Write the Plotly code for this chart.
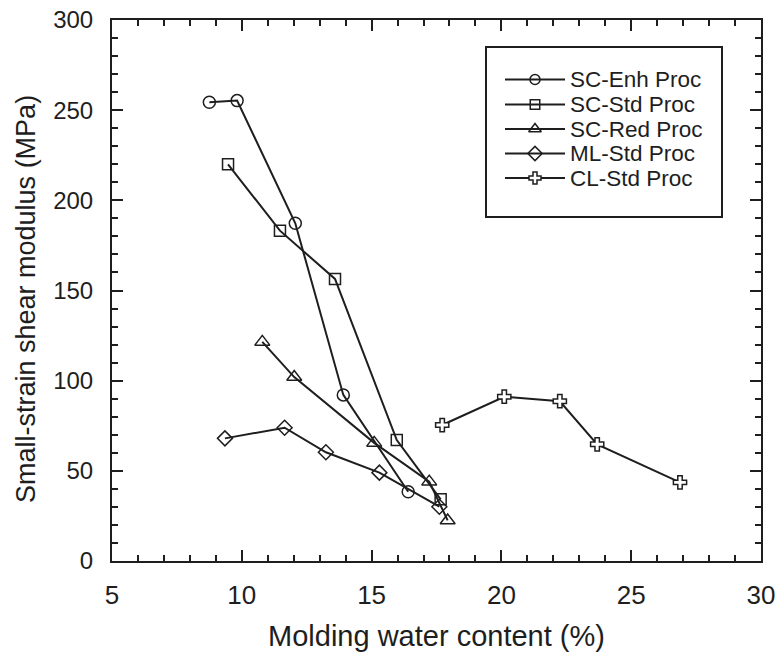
import plotly.graph_objects as go

# Data
sc_enh_x = [8.75, 9.82, 12.06, 13.91, 16.41]
sc_enh_y = [254.4, 255.3, 187.3, 92.1, 38.4]

sc_std_x = [9.47, 11.47, 13.59, 15.97, 17.66]
sc_std_y = [220.0, 183.2, 156.4, 67.1, 34.2]

sc_red_x = [10.79, 12.02, 15.10, 17.22, 17.93]
sc_red_y = [121.5, 102.0, 65.5, 44.0, 22.5]

ml_std_x = [9.35, 11.65, 13.24, 15.30, 17.61]
ml_std_y = [68.0, 73.9, 60.3, 49.0, 30.1]

cl_std_x = [17.72, 20.11, 22.25, 23.69, 26.88]
cl_std_y = [75.4, 91.1, 88.6, 64.7, 43.6]

names = ["SC-Enh Proc", "SC-Std Proc", "SC-Red Proc", "ML-Std Proc", "CL-Std Proc"]

x_ticks = [5, 10, 15, 20, 25, 30]
y_ticks = [0, 50, 100, 150, 200, 250, 300]

INK = "#1e1e1e"
FONT = "Liberation Sans, Arial, Helvetica, sans-serif"
NARROW = "Liberation Sans Narrow, Arial Narrow, Liberation Sans, Arial, sans-serif"

symbols = ["circle-open", "square-open", "triangle-up-open", "diamond-open", "cross"]
sizes = [12, 11, 13, 11.5, 11]
legend_sizes = [10, 9.5, 11, 11, 10]

series = [
    (sc_enh_x, sc_enh_y),
    (sc_std_x, sc_std_y),
    (sc_red_x, sc_red_y),
    (ml_std_x, ml_std_y),
    (cl_std_x, cl_std_y),
]

def marker_style(sym, sz):
    return dict(symbol=sym, size=sz, color="white" if sym == "cross" else INK,
                line=dict(color=INK, width=1.5))

fig = go.Figure()
for (xs, ys), nm, sym, sz in zip(series, names, symbols, sizes):
    fig.add_trace(go.Scatter(
        x=xs, y=ys, name=nm, mode="lines+markers",
        line=dict(color=INK, width=2),
        marker=marker_style(sym, sz), showlegend=False,
    ))

# ---- hand-built legend on a pixel-coordinate overlay axis ----
W, H = 777, 656
PLOT_L, PLOT_R, PLOT_T, PLOT_B = 112, 761, 20, 561
box = dict(x0=486, x1=722, y0=47, y1=217)
row_y = [79.5, 104.5, 129, 153.5, 178]
line_x0, line_x1, text_x = 505, 565, 568

fig.add_shape(type="rect", xref="x2", yref="y2", layer="below",
              line=dict(color=INK, width=2), fillcolor="white", **box)
for i, (nm, sym, sz) in enumerate(zip(names, symbols, legend_sizes)):
    yy = row_y[i]
    fig.add_shape(type="line", xref="x2", yref="y2", layer="below",
                  x0=line_x0, x1=line_x1, y0=yy, y1=yy,
                  line=dict(color=INK, width=2))
    fig.add_trace(go.Scatter(
        x=[(line_x0 + line_x1) / 2], y=[yy], xaxis="x2", yaxis="y2",
        mode="markers", marker=marker_style(sym, sz), showlegend=False,
        hoverinfo="skip",
    ))
    fig.add_annotation(x=text_x, y=yy, xref="x2", yref="y2", text=nm,
                       showarrow=False, xanchor="left", yanchor="middle",
                       font=dict(family=FONT, size=22.5, color=INK))

# y-axis title as a rotated annotation (slightly below centre, as in the reference)
title_px_x, title_px_y = 26, 299
fig.add_annotation(x=(title_px_x - PLOT_L) / (PLOT_R - PLOT_L),
                   y=(PLOT_B - title_px_y) / (PLOT_B - PLOT_T),
                   xref="paper", yref="paper",
                   text="Small-strain shear modulus (MPa)", textangle=-90,
                   showarrow=False, xanchor="center", yanchor="middle",
                   font=dict(family=FONT, size=27, color=INK))

axis_common = dict(
    showline=True, linecolor=INK, linewidth=2, mirror="ticks",
    ticks="inside", ticklen=11, tickwidth=2, tickcolor=INK,
    showgrid=False, zeroline=False,
)

xaxis = dict(
    range=[5, 30], tickvals=x_ticks, **axis_common,
    minor=dict(ticks="inside", ticklen=6, tickwidth=2, tickcolor=INK, dtick=1, showgrid=False),
    tickfont=dict(family=NARROW, size=26, color=INK),
    ticklabelstandoff=10,
    title=dict(text="Molding water content (%)", font=dict(family=FONT, size=29, color=INK), standoff=16),
)
yaxis = dict(
    range=[0, 300], tickvals=y_ticks, **axis_common,
    minor=dict(ticks="inside", ticklen=6, tickwidth=2, tickcolor=INK, dtick=10, showgrid=False),
    tickfont=dict(family=FONT, size=24, color=INK),
    ticklabelstandoff=12,
)

fig.update_layout(
    width=W, height=H,
    margin=dict(l=PLOT_L, r=W - PLOT_R, t=PLOT_T, b=H - PLOT_B, autoexpand=False),
    paper_bgcolor="white", plot_bgcolor="white",
    font=dict(family=FONT, color=INK),
    showlegend=False,
    xaxis=xaxis,
    yaxis=yaxis,
    xaxis2=dict(overlaying="x", anchor="y2", range=[PLOT_L, PLOT_R], visible=False, fixedrange=True),
    yaxis2=dict(overlaying="y", anchor="x2", range=[PLOT_B, PLOT_T], visible=False, fixedrange=True),
)

fig.write_html("out.html")
